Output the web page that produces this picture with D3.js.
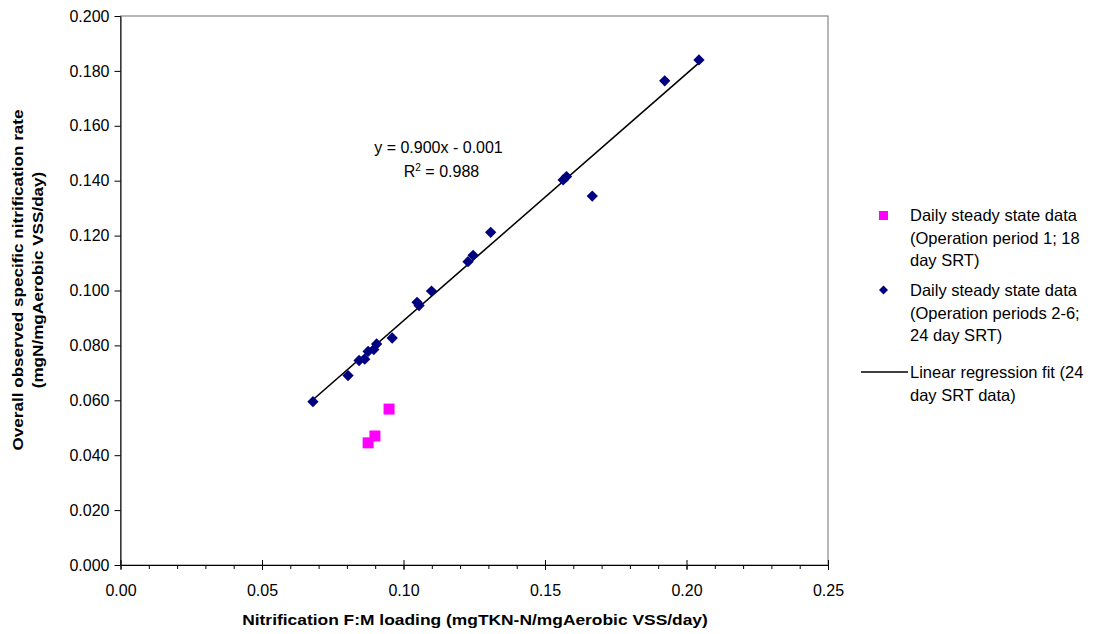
<!DOCTYPE html>
<html lang="en">
  <head>
    <meta charset="UTF-8" />
    <title>Nitrification rate vs F:M loading</title>
    <script src="https://d3js.org/d3.v7.min.js"></script>
    <style>
      body { margin: 0; background: #fff; }
      text { font-family: "Liberation Sans", Arial, sans-serif; fill: #000; }
      .tick text { font-size: 16px; }
      .axis-title { font-size: 15px; font-weight: bold; }
      .legend-text { font-size: 16.5px; }
      .eq-text { font-size: 16px; }
    </style>
  </head>
  <body>
    <svg id="chart" width="1103" height="634"></svg>
    <script>
      // 24 day SRT data (operation periods 2-6)
      const srt24X = [0.068, 0.0804, 0.0843, 0.0863, 0.0875, 0.0895, 0.0905, 0.096,
        0.1048, 0.1055, 0.1099, 0.1228, 0.1246, 0.1308, 0.1564, 0.1576, 0.1667, 0.1923, 0.2044];
      const srt24Y = [0.0595, 0.069, 0.0745, 0.075, 0.0778, 0.0785, 0.0805, 0.0827,
        0.0957, 0.0945, 0.0998, 0.1105, 0.1128, 0.1212, 0.1403, 0.1415, 0.1344, 0.1764, 0.184];
      // 18 day SRT data (operation period 1)
      const srt18X = [0.0949, 0.0899, 0.0875];
      const srt18Y = [0.0568, 0.047, 0.0445];
      // regression y = slope * x + intercept
      const slope = 0.9;
      const intercept = -0.001;
      const xTicks = [0, 0.05, 0.1, 0.15, 0.2, 0.25];
      const yTicks = [0, 0.02, 0.04, 0.06, 0.08, 0.1, 0.12, 0.14, 0.16, 0.18, 0.2];
      const legendLabels = [
        ["Daily steady state data", "(Operation period 1; 18", "day SRT)"],
        ["Daily steady state data", "(Operation periods 2-6;", "24 day SRT)"],
        ["Linear regression fit (24", "day SRT data)"]
      ];

      const svg = d3.select("#chart");
      const margin = { top: 16, left: 120.5 };
      const width = 707.5;
      const height = 549;

      const g = svg.append("g").attr("transform", `translate(${margin.left},${margin.top})`);

      const x = d3.scaleLinear().domain([0, 0.25]).range([0, width]);
      const y = d3.scaleLinear().domain([0, 0.2]).range([height, 0]);

      // plot area frame
      g.append("rect")
        .attr("width", width)
        .attr("height", height)
        .attr("fill", "none")
        .attr("stroke", "#6e6e6e")
        .attr("stroke-width", 1);

      // minor x ticks
      g.append("g")
        .attr("transform", `translate(0,${height})`)
        .call(d3.axisBottom(x).tickValues(d3.range(0, 0.2501, 0.01)).tickSize(4).tickFormat(""))
        .call((a) => a.select(".domain").remove());

      // major x ticks, crossing the axis
      const xAxis = g.append("g")
        .attr("transform", `translate(0,${height})`)
        .call(d3.axisBottom(x).tickValues(xTicks).tickSize(5).tickSizeOuter(0).tickPadding(15).tickFormat(d3.format(".2f")));
      xAxis.selectAll(".tick line").attr("y1", -5);

      // y axis
      g.append("g")
        .call(d3.axisLeft(y).tickValues(yTicks).tickSize(6).tickSizeOuter(0).tickPadding(5).tickFormat(d3.format(".3f")));

      svg.selectAll(".domain, .tick line").attr("stroke", "#000");

      // regression line over the range of the 24 day data
      const [x0, x1] = d3.extent(srt24X);
      g.append("line")
        .attr("x1", x(x0))
        .attr("y1", y(slope * x0 + intercept))
        .attr("x2", x(x1))
        .attr("y2", y(slope * x1 + intercept))
        .attr("stroke", "#000")
        .attr("stroke-width", 1.6);

      const diamond = d3.symbol().type(d3.symbolSquare).size(64);

      // 24 day SRT diamonds
      g.selectAll(".diamond")
        .data(srt24X.map((d, i) => [d, srt24Y[i]]))
        .enter()
        .append("path")
        .attr("d", diamond)
        .attr("transform", (d) => `translate(${x(d[0])},${y(d[1])}) rotate(45)`)
        .attr("fill", "#000080");

      // 18 day SRT squares
      g.selectAll(".square")
        .data(srt18X.map((d, i) => [d, srt18Y[i]]))
        .enter()
        .append("rect")
        .attr("x", (d) => x(d[0]) - 5.5)
        .attr("y", (d) => y(d[1]) - 5.5)
        .attr("width", 11)
        .attr("height", 11)
        .attr("fill", "#ff00ff");

      // regression equation
      g.append("text")
        .attr("class", "eq-text")
        .attr("x", 318)
        .attr("y", 137)
        .attr("text-anchor", "middle")
        .text("y = 0.900x - 0.001");
      const r2 = g.append("text")
        .attr("class", "eq-text")
        .attr("x", 321)
        .attr("y", 161)
        .attr("text-anchor", "middle");
      r2.append("tspan").text("R");
      r2.append("tspan").attr("font-size", "10px").attr("dy", -6).text("2");
      r2.append("tspan").attr("dy", 6).text(" = 0.988");

      // axis titles
      svg.append("text")
        .attr("class", "axis-title")
        .attr("x", 0)
        .attr("y", 0)
        .attr("text-anchor", "middle")
        .attr("transform", "translate(475,625) scale(1.16,1)")
        .text("Nitrification F:M loading (mgTKN-N/mgAerobic VSS/day)");

      const yTitle = svg.append("text")
        .attr("class", "axis-title")
        .attr("text-anchor", "middle")
        .attr("transform", "translate(0,280) rotate(-90) scale(1.14,1)");
      yTitle.append("tspan").attr("x", 0).attr("y", 23).text("Overall observed specific nitrification rate");
      yTitle.append("tspan").attr("x", 0).attr("y", 43).text("(mgN/mgAerobic VSS/day)");

      // legend
      const legend = svg.append("g");
      const legendTops = [215, 290, 372];
      legendLabels.forEach((lines, i) => {
        const t = legend.append("text")
          .attr("class", "legend-text")
          .attr("y", legendTops[i] + 6);
        lines.forEach((line, j) => {
          t.append("tspan").attr("x", 910).attr("dy", j === 0 ? 0 : 22.5).text(line);
        });
      });
      legend.append("rect")
        .attr("x", 879).attr("y", 211).attr("width", 9).attr("height", 9)
        .attr("fill", "#ff00ff");
      legend.append("path")
        .attr("d", d3.symbol().type(d3.symbolSquare).size(40))
        .attr("transform", "translate(883.5,290) rotate(45)")
        .attr("fill", "#000080");
      legend.append("line")
        .attr("x1", 861).attr("x2", 908).attr("y1", 372).attr("y2", 372)
        .attr("stroke", "#000").attr("stroke-width", 1.6);
    </script>
  </body>
</html>
